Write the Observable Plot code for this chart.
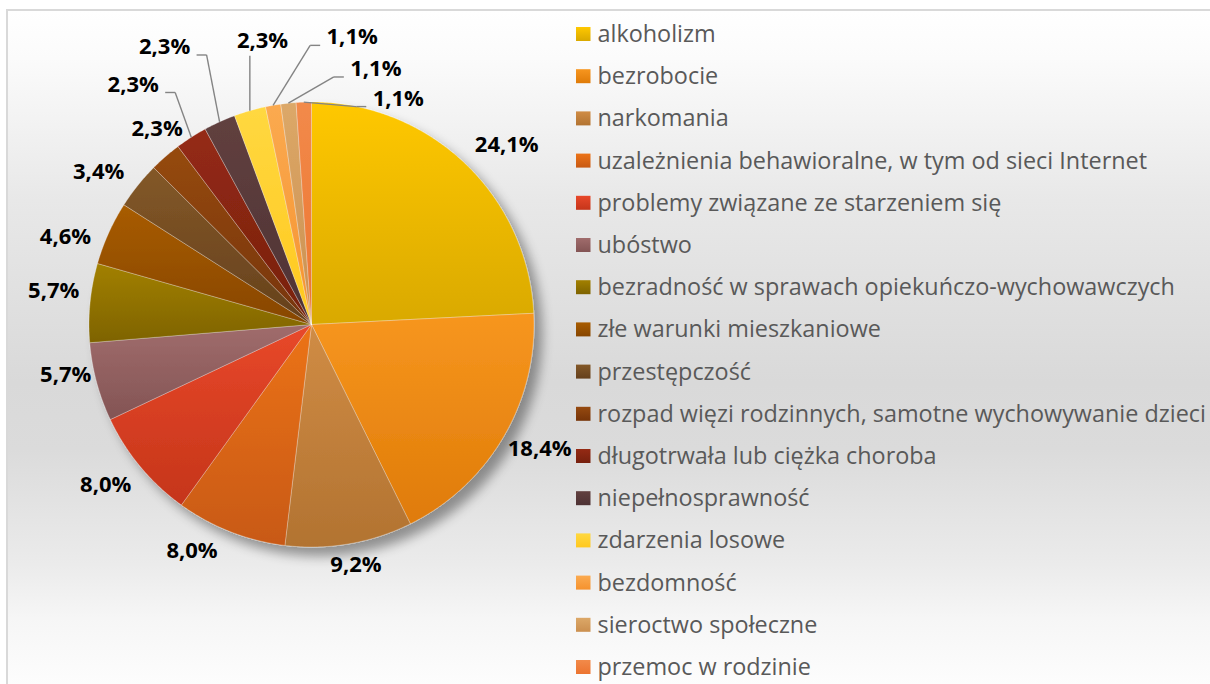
<!DOCTYPE html>
<html><head><meta charset="utf-8">
<script src="https://cdn.jsdelivr.net/npm/d3@7"></script>
<script src="https://cdn.jsdelivr.net/npm/@observablehq/plot@0.6"></script>
<style>
html,body{margin:0;padding:0;background:#fff;overflow:hidden;}
#frame{position:absolute;left:6px;top:9px;width:1210px;height:675px;
  border-left:2px solid #d9d9d9;border-top:2px solid #d9d9d9;
  background:linear-gradient(to bottom,#ffffff 0%,#fbfbfb 7%,#e8e8e8 28%,#d9d9d9 55%,#dbdbdb 65%,#ebebeb 82%,#f6f6f6 90%,#fdfdfd 100%);}
#chart{position:absolute;left:0;top:0;}
</style></head><body>
<div id="frame"></div><div id="chart"></div>
<script>
// ---- data ----
const categories = [
  "alkoholizm",
  "bezrobocie",
  "narkomania",
  "uzależnienia behawioralne, w tym od sieci Internet",
  "problemy związane ze starzeniem się",
  "ubóstwo",
  "bezradność w sprawach opiekuńczo-wychowawczych",
  "złe warunki mieszkaniowe",
  "przestępczość",
  "rozpad więzi rodzinnych, samotne wychowywanie dzieci",
  "długotrwała lub ciężka choroba",
  "niepełnosprawność",
  "zdarzenia losowe",
  "bezdomność",
  "sieroctwo społeczne",
  "przemoc w rodzinie"
];
const percents = [24.1, 18.4, 9.2, 8.0, 8.0, 5.7, 5.7, 4.6, 3.4, 2.3, 2.3, 2.3, 2.3, 1.1, 1.1, 1.1];
const valueLabels = ["24,1%","18,4%","9,2%","8,0%","8,0%","5,7%","5,7%","4,6%","3,4%","2,3%","2,3%","2,3%","2,3%","1,1%","1,1%","1,1%"];

// ---- styles ----
const topColors = ["#ffc800","#f7961f","#d08c45","#ec7318","#e8482a","#a06c6c","#a28000","#a85c00","#835828","#964a10","#952a14","#61403f","#ffd840","#fbaa50","#dca868","#f28a4a"];
const bottomColors = ["#d9a900","#df7b08","#b27331","#c85912","#c5351a","#835454","#7e6300","#874600","#65401c","#763408","#76200e","#4e3234","#ffc81e","#f5922e","#cb8f4f","#ec7430"];
// label placement: [angle nudge from slice middle (deg), distance from centre (px)]
const labelLayout = [[3.9,265],[-1.7,260],[-0.7,245],[6.5,256],[1.8,261],[3.3,251],[1.9,260],[-4.7,261],[-3,262],[2.7,249],[-3.9,299],[-3.5,314],[6.3,288],[18.0,290],[20.1,263.5],[23.0,242]];
const leaderFrom = 10; // labels with leader lines

// ---- layout ----
const W = 1210, H = 684, CX = 311, CY = 324, R = 222.5;
const total = d3.sum(percents);
const pt = (a, r) => [CX + r * Math.sin(a), CY - r * Math.cos(a)];
let acc = 0;
const slices = percents.map((v, i) => {
  const a0 = acc / total * 2 * Math.PI; acc += v;
  const a1 = acc / total * 2 * Math.PI;
  return {i, a0, a1, mid: (a0 + a1) / 2};
});
const pieRows = slices.flatMap(s => {
  const n = Math.max(2, Math.ceil((s.a1 - s.a0) / (Math.PI / 360)));
  const pts = [[CX, CY]];
  for (let k = 0; k <= n; k++) pts.push(pt(s.a0 + (s.a1 - s.a0) * k / n, R));
  pts.push([CX, CY]);
  return pts.map(([x, y]) => ({x, y, i: s.i}));
});
const labelRows = slices.map(s => {
  const [da, d] = labelLayout[s.i];
  const [x, y] = pt(s.mid + da * Math.PI / 180, d);
  return {x, y, text: valueLabels[s.i], i: s.i, s};
});
const leaderRows = [];
labelRows.filter(l => l.i >= leaderFrom).forEach(l => {
  const [ex, ey] = pt(l.s.mid, R);
  const hw = 26, hh = 9;
  let end, elbow;
  if (l.x < ex - 20) { end = [l.x + hw + 6, l.y + 8]; elbow = [end[0] + 10, end[1]]; }
  else if (l.x > ex + 20) { end = [l.x - hw - 6, l.y + 8]; elbow = [end[0] - 10, end[1]]; }
  else { end = [ex, l.y + hh + 6]; elbow = end; }
  leaderRows.push({x1: ex, y1: ey, x2: elbow[0], y2: elbow[1]});
  leaderRows.push({x1: elbow[0], y1: elbow[1], x2: end[0], y2: end[1]});
});
const legendRows = categories.map((c, i) => ({c, i, y: 34 + i * 42.2}));

const svg = Plot.plot({
  width: W, height: H, margin: 0,
  x: {domain: [0, W], range: [0, W], axis: null},
  y: {domain: [0, H], range: [0, H], axis: null},
  color: {type: "identity"},
  style: {background: "transparent", fontFamily: "'Open Sans', sans-serif", overflow: "visible"},
  marks: [
    Plot.line(pieRows, {x: "x", y: "y", z: "i", fill: d => `url(#g${d.i})`, stroke: "#ffffff", strokeOpacity: 0.4, strokeWidth: 0.7, curve: "linear"}),
    Plot.link(leaderRows, {x1: "x1", y1: "y1", x2: "x2", y2: "y2", stroke: "#848484", strokeWidth: 1.4}),
    Plot.text(labelRows, {x: "x", y: "y", text: "text", fontSize: 22, fontWeight: 700, fill: "#000000"}),
    Plot.rect(legendRows, {x1: 576, x2: 590.5, y1: d => d.y - 7, y2: d => d.y + 7, fill: d => `url(#g${d.i})`}),
    Plot.text(legendRows, {x: 597, y: "y", text: "c", textAnchor: "start", fontSize: 23.4, fill: "#595959"})
  ]
});

const sel = d3.select(svg);
const defs = sel.insert("defs", ":first-child");
topColors.forEach((c, i) => {
  const g = defs.append("linearGradient").attr("id", "g" + i).attr("x1", 0).attr("y1", 0).attr("x2", 0).attr("y2", 1);
  g.append("stop").attr("offset", "0%").attr("stop-color", c);
  g.append("stop").attr("offset", "100%").attr("stop-color", bottomColors[i]);
});
const f = defs.append("filter").attr("id", "shadow").attr("x", "-20%").attr("y", "-20%").attr("width", "150%").attr("height", "150%");
f.append("feGaussianBlur").attr("in", "SourceAlpha").attr("stdDeviation", 6).attr("result", "blur");
f.append("feOffset").attr("in", "blur").attr("dx", 8).attr("dy", 9).attr("result", "off");
f.append("feComponentTransfer").attr("in", "off").attr("result", "sh").append("feFuncA").attr("type", "linear").attr("slope", 0.38);
const m = f.append("feMerge");
m.append("feMergeNode").attr("in", "sh");
m.append("feMergeNode").attr("in", "SourceGraphic");
sel.select('g[aria-label="line"]').attr("filter", "url(#shadow)");

document.getElementById("chart").appendChild(svg);
</script>
</body></html>
